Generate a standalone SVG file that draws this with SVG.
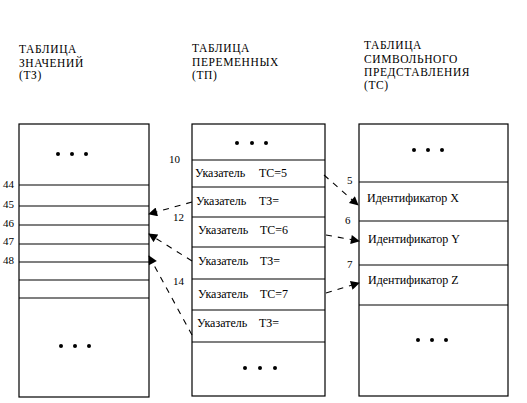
<svg xmlns="http://www.w3.org/2000/svg" width="527" height="403" viewBox="0 0 527 403">
<defs>
<style>
.box{fill:#fff;stroke:#000;stroke-width:1.2}
.ln{stroke:#000;stroke-width:1.2}
.hd{font-size:11.5px;letter-spacing:0.6px;fill:#000}
.tx{font-size:12px;fill:#000}
.num{font-size:11px;fill:#000}
.conn{fill:none;stroke:#000;stroke-width:1.1;stroke-dasharray:6,6}
</style>
<marker id="ah" viewBox="0 0 10 10" refX="9" refY="5" markerWidth="11" markerHeight="9" markerUnits="userSpaceOnUse" orient="auto">
<path d="M0,0 L10,5 L0,10 z" fill="#000"/>
</marker>
</defs>
<rect width="527" height="403" fill="#fff"/>
<g font-family="'Liberation Serif', 'DejaVu Serif', 'Times New Roman', serif">
<g id="header-tz">
<text class="hd" x="19" y="53">ТАБЛИЦА</text>
<text class="hd" x="19" y="67">ЗНАЧЕНИЙ</text>
<text class="hd" x="19" y="79">(ТЗ)</text>
</g>
<g id="header-tp">
<text class="hd" x="192" y="52">ТАБЛИЦА</text>
<text class="hd" x="192" y="66">ПЕРЕМЕННЫХ</text>
<text class="hd" x="192" y="79">(ТП)</text>
</g>
<g id="header-tc">
<text class="hd" x="364" y="49">ТАБЛИЦА</text>
<text class="hd" x="364" y="63">СИМВОЛЬНОГО</text>
<text class="hd" x="364" y="76">ПРЕДСТАВЛЕНИЯ</text>
<text class="hd" x="364" y="89">(ТС)</text>
</g>

<g id="table-tz">
<rect class="box" x="19" y="124" width="130" height="273"/>
<line class="ln" x1="19" y1="185" x2="149" y2="185"/>
<line class="ln" x1="19" y1="206" x2="149" y2="206"/>
<line class="ln" x1="19" y1="225" x2="149" y2="225"/>
<line class="ln" x1="19" y1="244" x2="149" y2="244"/>
<line class="ln" x1="19" y1="262" x2="149" y2="262"/>
<line class="ln" x1="19" y1="280" x2="149" y2="280"/>
<line class="ln" x1="19" y1="298" x2="149" y2="298"/>
<circle cx="58" cy="154" r="2"/><circle cx="72" cy="154" r="2"/><circle cx="86" cy="154" r="2"/>
<circle cx="61" cy="346" r="2"/><circle cx="75" cy="346" r="2"/><circle cx="89" cy="346" r="2"/>
<text class="num" x="3" y="188">44</text>
<text class="num" x="3" y="208">45</text>
<text class="num" x="3" y="227">46</text>
<text class="num" x="3" y="245">47</text>
<text class="num" x="3" y="264">48</text>
</g>

<g id="table-tp">
<rect class="box" x="192" y="124" width="133" height="272"/>
<line class="ln" x1="192" y1="160" x2="325" y2="160"/>
<line class="ln" x1="192" y1="187" x2="325" y2="187"/>
<line class="ln" x1="192" y1="217" x2="325" y2="217"/>
<line class="ln" x1="192" y1="247" x2="325" y2="247"/>
<line class="ln" x1="192" y1="279" x2="325" y2="279"/>
<line class="ln" x1="192" y1="310" x2="325" y2="310"/>
<line class="ln" x1="192" y1="342" x2="325" y2="342"/>
<circle cx="237" cy="143" r="2"/><circle cx="252" cy="143" r="2"/><circle cx="266" cy="143" r="2"/>
<circle cx="245" cy="368" r="2"/><circle cx="260" cy="368" r="2"/><circle cx="275" cy="368" r="2"/>
<text class="tx" x="195" y="177">Указатель<tspan x="259">ТС=5</tspan></text>
<text class="tx" x="196" y="205">Указатель<tspan x="259">ТЗ=</tspan></text>
<text class="tx" x="198" y="234">Указатель<tspan x="260">ТС=6</tspan></text>
<text class="tx" x="198" y="265">Указатель<tspan x="260">ТЗ=</tspan></text>
<text class="tx" x="198" y="298">Указатель<tspan x="260">ТС=7</tspan></text>
<text class="tx" x="197" y="327">Указатель<tspan x="259">ТЗ=</tspan></text>
<text class="num" x="169" y="163">10</text>
<text class="num" x="173" y="221">12</text>
<text class="num" x="173" y="285">14</text>
</g>

<g id="table-tc">
<rect class="box" x="359" y="124" width="149" height="272"/>
<line class="ln" x1="359" y1="182" x2="508" y2="182"/>
<line class="ln" x1="359" y1="221" x2="508" y2="221"/>
<line class="ln" x1="359" y1="265" x2="508" y2="265"/>
<line class="ln" x1="359" y1="305" x2="508" y2="305"/>
<circle cx="414" cy="150" r="2"/><circle cx="428" cy="150" r="2"/><circle cx="442" cy="150" r="2"/>
<circle cx="418" cy="340" r="2"/><circle cx="432" cy="340" r="2"/><circle cx="446" cy="340" r="2"/>
<text class="tx" x="367" y="202">Идентификатор X</text>
<text class="tx" x="368" y="243">Идентификатор Y</text>
<text class="tx" x="368" y="284">Идентификатор Z</text>
<text class="num" x="347" y="184">5</text>
<text class="num" x="345" y="224">6</text>
<text class="num" x="347" y="268">7</text>
</g>
</g>
<g id="connectors">
<path class="conn" d="M192,202 L149,214" marker-end="url(#ah)"/>
<path class="conn" d="M192,261 L149,234" marker-end="url(#ah)"/>
<path class="conn" d="M192,335 L149,256" marker-end="url(#ah)"/>
<path class="conn" d="M324,175 L358,205" marker-end="url(#ah)"/>
<path class="conn" d="M326,235 L359,241" marker-end="url(#ah)"/>
<path class="conn" d="M326,293 L359,283" marker-end="url(#ah)"/>
</g>
</svg>
